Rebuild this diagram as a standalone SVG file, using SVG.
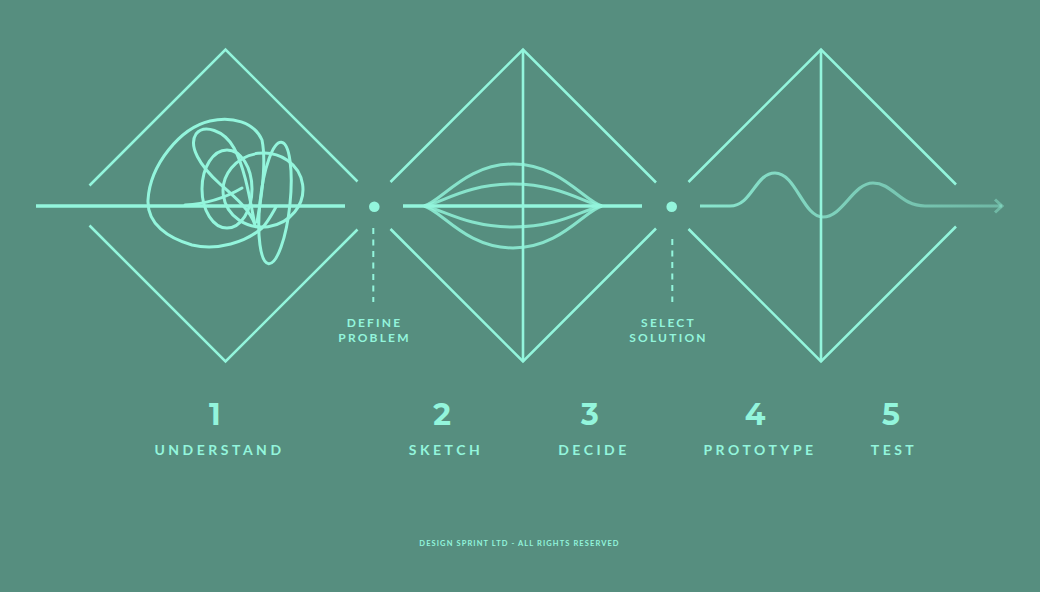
<svg xmlns="http://www.w3.org/2000/svg" width="1040" height="592" viewBox="0 0 1040 592">
  <defs>
    <style>
      .frame { fill: none; stroke: #93F5DC; stroke-width: 2.6; }
      .flow { fill: none; stroke: #93F5DC; stroke-width: 3.6; }
      .scrib { fill: none; stroke: #93F5DC; stroke-width: 3; stroke-linecap: round; stroke-linejoin: round; }
      .lens { fill: none; stroke: #93F5DC; stroke-opacity: 0.82; stroke-width: 3; }
      .dash { fill: none; stroke: #93F5DC; stroke-width: 2; stroke-dasharray: 6 5.5; }
      .dot { fill: #93F5DC; }
      .num { font-family: "Montserrat", "Lato", "Liberation Sans", sans-serif; font-weight: 700; font-size: 30px; fill: #93F5DC; text-anchor: middle; }
      .step { font-family: "Lato", "Liberation Sans", sans-serif; font-weight: 700; font-size: 14px; letter-spacing: 3.5px; fill: #93F5DC; text-anchor: middle; }
      .mile { font-family: "Lato", "Liberation Sans", sans-serif; font-weight: 700; font-size: 12px; letter-spacing: 2.2px; fill: #93F5DC; text-anchor: middle; }
      .foot { font-family: "Lato", "Liberation Sans", sans-serif; font-weight: 700; font-size: 7.5px; letter-spacing: 1.1px; fill: #93F5DC; text-anchor: middle; }
    </style>
    <linearGradient id="fade" gradientUnits="userSpaceOnUse" x1="700" y1="0" x2="1004" y2="0">
      <stop offset="0" stop-color="#93F5DC" stop-opacity="0.85"/>
      <stop offset="1" stop-color="#93F5DC" stop-opacity="0.4"/>
    </linearGradient>
  </defs>
  <rect width="1040" height="592" fill="#568E7F"/>

  <g id="node-understand">
    <polyline class="frame" points="89.5,185.5 225.5,49.5 357.5,181.5"/>
    <polyline class="frame" points="89.5,225.5 225.5,361.5 357.5,229.5"/>
    <path class="scrib" d="M257 222 C262 195 266 160 262 140 C254 122 232 116 210 121 C180 128 150 165 148 200 C147 224 168 238 192 245 C218 251 246 242 262 228 C268 222 272 214 276 207"/>
    <path class="scrib" d="M255 225 C250 200 245 168 234 148 C224 130 204 124 196 134 C188 146 200 166 220 184 C236 198 250 210 255 225 Z"/>
    <ellipse class="scrib" cx="227" cy="189" rx="25" ry="39"/>
    <ellipse class="scrib" cx="263" cy="190" rx="40" ry="37" transform="rotate(-8 263 190)"/>
    <ellipse class="scrib" cx="275" cy="203" rx="15" ry="61" transform="rotate(6 275 203)"/>
    <path class="scrib" d="M185 205 C205 204 225 198 242 188"/>
  </g>

  <g id="node-sketch-decide">
    <polyline class="frame" points="390.5,182 523,49.5 656,182.5"/>
    <polyline class="frame" points="390.5,229 523,361.5 656,228.5"/>
    <line class="frame" x1="523" y1="49.5" x2="523" y2="361.5"/>
    <path class="lens" d="M424 206 C442 201 466 164 513 164 C560 164 584 201 602 206"/>
    <path class="lens" d="M424 206 C442 203 466 184 513 184 C560 184 584 203 602 206"/>
    <path class="lens" d="M424 206 C442 209 466 227 513 227 C560 227 584 209 602 206"/>
    <path class="lens" d="M424 206 C442 211 466 248 513 248 C560 248 584 211 602 206"/>
  </g>

  <g id="node-prototype-test">
    <polyline class="frame" points="688.5,182 821,49.5 956,184.5"/>
    <polyline class="frame" points="688.5,229 821,361.5 956,226.5"/>
    <line class="frame" x1="821" y1="49.5" x2="821" y2="361.5"/>
  </g>

  <g id="milestone-define">
    <circle class="dot" cx="374.3" cy="206.7" r="5.3"/>
    <line class="dash" x1="373.3" y1="228" x2="373.3" y2="302"/>
    <text class="mile" x="374.5" y="327">DEFINE</text>
    <text class="mile" x="374.5" y="342">PROBLEM</text>
  </g>

  <g id="milestone-select">
    <circle class="dot" cx="671.7" cy="206.7" r="5.3"/>
    <line class="dash" x1="672.3" y1="239" x2="672.3" y2="302"/>
    <text class="mile" x="668.5" y="327">SELECT</text>
    <text class="mile" x="668.5" y="342">SOLUTION</text>
  </g>

  <g id="connectors">
    <line class="flow" x1="36" y1="206" x2="345" y2="206"/>
    <line class="flow" x1="403" y1="206" x2="642" y2="206"/>
    <path d="M700 206 L730 206 C752 206 755 173 775 173 C796 173 803 217 823 217 C843 217 853 183 873 183 C893 183 900 206 925 206 L1002 206" fill="none" stroke="url(#fade)" stroke-width="3.2"/>
    <polyline points="995,199.5 1002,206 995,212.5" fill="none" stroke="#93F5DC" stroke-opacity="0.42" stroke-width="3"/>
  </g>

  <g id="label-1">
    <text class="num" x="215" y="425">1</text>
    <text class="step" x="219.5" y="455">UNDERSTAND</text>
  </g>
  <g id="label-2">
    <text class="num" x="442" y="425">2</text>
    <text class="step" x="446" y="455">SKETCH</text>
  </g>
  <g id="label-3">
    <text class="num" x="590" y="425">3</text>
    <text class="step" x="594" y="455">DECIDE</text>
  </g>
  <g id="label-4">
    <text class="num" x="755" y="425">4</text>
    <text class="step" x="760" y="455">PROTOTYPE</text>
  </g>
  <g id="label-5">
    <text class="num" x="891" y="425">5</text>
    <text class="step" x="894" y="455">TEST</text>
  </g>

  <text class="foot" x="519.5" y="546">DESIGN SPRINT LTD - ALL RIGHTS RESERVED</text>
</svg>
